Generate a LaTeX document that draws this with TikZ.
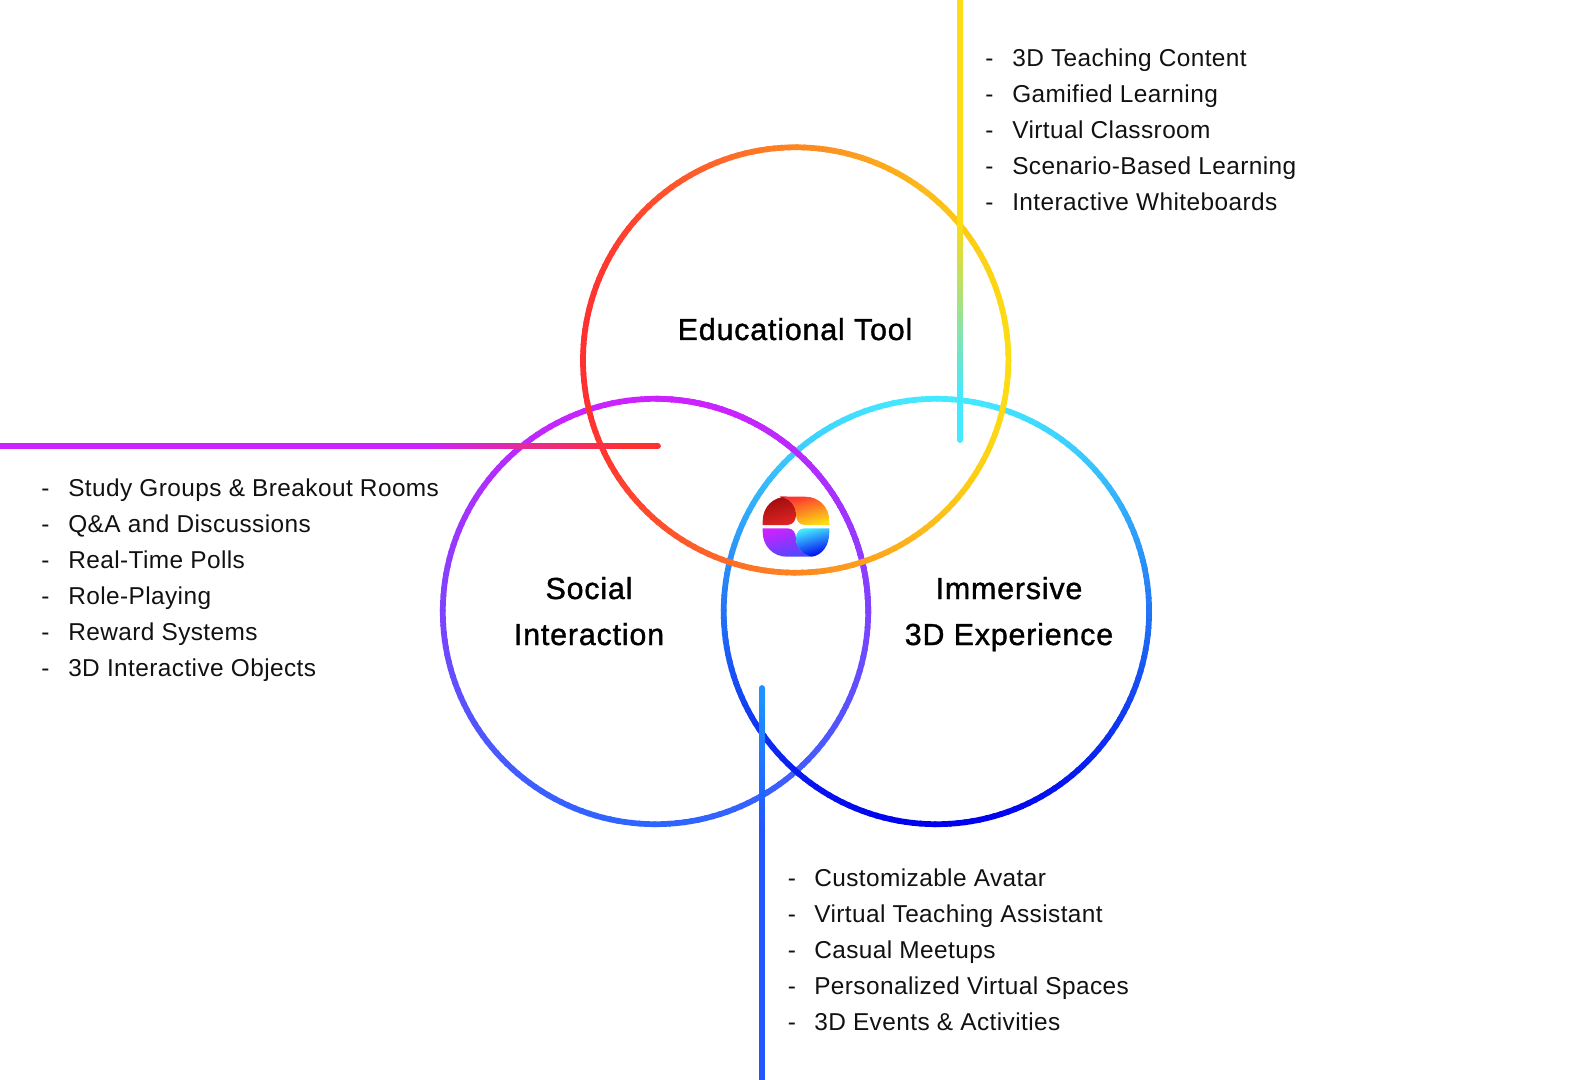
\documentclass[tikz,border=0pt]{standalone}
\usepackage{fontspec}
\setmainfont[LetterSpace=1.7]{Liberation Sans}
\newfontfamily\titlefont[FakeBold=1.2,LetterSpace=2.7]{Liberation Sans}
\definecolor{cred}{HTML}{FF3030}
\definecolor{cyel}{HTML}{FCDC14}
\definecolor{cmag}{HTML}{CC22FF}
\definecolor{ccya}{HTML}{44E8FF}
\definecolor{cblu}{HTML}{0000EE}
\definecolor{cbl2}{HTML}{2E64FF}
\definecolor{cbl3}{HTML}{2090FF}
\definecolor{cbl4}{HTML}{2255FF}
\definecolor{cdk1}{HTML}{A00C0C}
\definecolor{cdk2}{HTML}{E02525}
\definecolor{ink}{HTML}{111111}
\tikzset{
  itemtext/.style={inner sep=0pt,anchor=base west,text=ink,font=\fontsize{18.3pt}{18.3pt}\selectfont},
  titletext/.style={inner sep=0pt,anchor=base,text=black,font=\titlefont\fontsize{22.8pt}{22.8pt}\selectfont},
  bar/.style={line width=4.3pt},
  capbar/.style={line width=4.3pt,line cap=round},
  ringseg/.style={line width=4.3pt}
}
% vertical-gradient ring piece: centre, first angle, last angle, top colour, bottom colour
\newcommand{\vring}[5]{%
  \foreach \a in {#2,\the\numexpr#2+2\relax,...,#3}{%
    \pgfmathsetmacro\m{50*(1+sin(\a+1))}%
    \draw[ringseg,draw={#5!\m!#4}] (#1) ++(\a:212.7) arc[start angle=\a,end angle=\a+2.6,radius=212.7];
  }}
\newcommand{\hring}[5]{%
  \foreach \a in {#2,\the\numexpr#2+2\relax,...,#3}{%
    \pgfmathsetmacro\m{50*(1+cos(\a+1))}%
    \draw[ringseg,draw={#5!\m!#4}] (#1) ++(\a:212.7) arc[start angle=\a,end angle=\a+2.6,radius=212.7];
  }}
\begin{document}
\begin{tikzpicture}[x=0.75pt,y=-0.75pt]
\useasboundingbox (0,0) rectangle (1592,1080);
% circle centres
\coordinate (cedu) at (795.7,360);
\coordinate (csoc) at (655.5,611.5);
\coordinate (cimm) at (936.4,611.5);
% rings
\vring{csoc}{0}{358}{cmag}{cbl2}
\vring{cimm}{0}{358}{ccya}{cblu}
\vring{csoc}{270}{358}{cmag}{cbl2}
\hring{cedu}{0}{358}{cred}{cyel}
% yellow-cyan connector
\coordinate (ya) at (960,0);
\coordinate (yb) at (960,223);
\coordinate (yc) at (960,393);
\coordinate (yd) at (960,440);
\draw[bar,cyel] (ya) -- (yb);
\shade[top color=cyel,bottom color=ccya] ([xshift=-2.87*0.75pt]yb) rectangle ([xshift=2.87*0.75pt]yc);
\draw[capbar,ccya] (yc) -- (yd);
% magenta-red connector
\coordinate (ma) at (0,446);
\coordinate (mb) at (424,446);
\coordinate (mc) at (625,446);
\coordinate (md) at (658,446);
\draw[bar,cmag] (ma) -- (mb);
\shade[left color=cmag,right color=cred] ([yshift=2.87*0.75pt]mb) rectangle ([yshift=-2.87*0.75pt]mc);
\draw[capbar,cred] (mc) -- (md);
% blue connector
\coordinate (ba) at (762,688);
\coordinate (bb) at (762,700);
\coordinate (bc) at (762,830);
\coordinate (bd) at (762,1080);
\draw[capbar,cbl3] (ba) -- (bb);
\shade[top color=cbl3,bottom color=cbl4] ([xshift=-2.87*0.75pt]bb) rectangle ([xshift=2.87*0.75pt]bc);
\draw[bar,cbl4] (bc) -- (bd);
% logo
\shade[top color=cred,bottom color=cyel,shading angle=15]
  (780,496.7) -- (805,496.7) .. controls (819,496.7) and (829.3,507) .. (829.3,521) -- (829.3,525)
  -- (804.5,525) .. controls (799,525) and (796,520) .. (796,515)
  .. controls (796,505) and (789,498) .. (780,496.7) -- cycle;
\shade[top color=cdk1,bottom color=cdk2,shading angle=15]
  (787,496.7) .. controls (773,496.7) and (762.7,507) .. (762.7,521) -- (762.7,525)
  -- (787.5,525) .. controls (793,525) and (796,520) .. (796,515)
  .. controls (796,505) and (789,498) .. (780,496.7) -- cycle;
\shade[top color=cmag,bottom color=cbl4!75!cmag,shading angle=15]
  (762.7,528.3) -- (787.5,528.3) .. controls (793,528.3) and (796,533) .. (796,538.3)
  .. controls (796,548) and (803,555) .. (812,556.7) -- (787,556.7)
  .. controls (773,556.7) and (762.7,546) .. (762.7,532) -- cycle;
\shade[top color=ccya,bottom color=cblu,shading angle=15]
  (829.3,528.3) -- (804.5,528.3) .. controls (799,528.3) and (796,533) .. (796,538.3)
  .. controls (796,548) and (803,555) .. (812,556.7)
  .. controls (822,555) and (829.3,546) .. (829.3,532) -- cycle;
% titles
\node[titletext] (t1) at (795,340) {Educational Tool};
\node[titletext] (t2) at (589,599) {Social};
\node[titletext] (t3) at (589,645) {Interaction};
\node[titletext] (t4) at (1009,599) {Immersive};
\node[titletext] (t5) at (1009,645) {3D Experience};
% lists
\foreach \y/\t [count=\i] in {67/3D Teaching Content,103/Gamified Learning,139/Virtual Classroom,175/Scenario-Based Learning,211/Interactive Whiteboards}{
  \node[itemtext] (ed\i) at (985,\y) {-};
  \node[itemtext] (et\i) at (1012,\y) {\t};
}
\foreach \y/\t [count=\i] in {496/Study Groups \& Breakout Rooms,532/Q\&A and Discussions,568/Real-Time Polls,604/Role-Playing,640/Reward Systems,676/3D Interactive Objects}{
  \node[itemtext] (sd\i) at (41,\y) {-};
  \node[itemtext] (st\i) at (68,\y) {\t};
}
\foreach \y/\t [count=\i] in {886.5/Customizable Avatar,922.5/Virtual Teaching Assistant,958.5/Casual Meetups,994.5/Personalized Virtual Spaces,1030.5/3D Events \& Activities}{
  \node[itemtext] (id\i) at (787.5,\y) {-};
  \node[itemtext] (it\i) at (814,\y) {\t};
}
\end{tikzpicture}
\end{document}
